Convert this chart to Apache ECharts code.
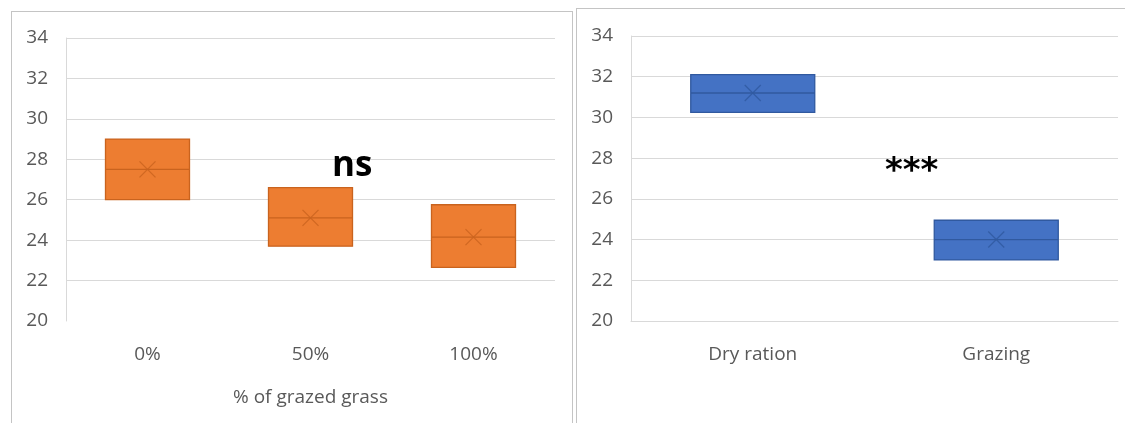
<!DOCTYPE html>
<html>
<head>
<meta charset="utf-8">
<script src="https://cdn.jsdelivr.net/npm/echarts@6/dist/echarts.min.js"></script>
<style>
  html, body { margin: 0; padding: 0; background: #fff; width: 1125px; height: 423px; overflow: hidden; }
  .panel { position: absolute; background: #fff; }
  #left { left: 11px; top: 11px; width: 560px; height: 430px; border: 1px solid #c4c4c4; border-bottom: none; }
  #right { left: 576px; top: 8px; width: 560px; height: 430px; border-left: 1px solid #c4c4c4; border-top: 1px solid #c4c4c4; }
</style>
</head>
<body>
<div id="left" class="panel"></div>
<div id="right" class="panel"></div>
<script>
// left panel: % of grazed grass
const grazedCats = ['0%', '50%', '100%'];
const grazedQ1 = [26.0, 23.7, 22.65];
const grazedMedian = [27.5, 25.1, 24.15];
const grazedQ3 = [29.0, 26.6, 25.75];
const grazedMean = [27.5, 25.1, 24.15];

// right panel: ration type
const rationCats = ['Dry ration', 'Grazing'];
const rationQ1 = [30.25, 23.0];
const rationMedian = [31.2, 24.0];
const rationQ3 = [32.1, 24.95];
const rationMean = [31.2, 24.0];

const yMin = 20, yMax = 34, yStep = 2;

const FONT = '"Open Sans", "Noto Sans", sans-serif';
const crossPath = 'path://M0,0L10,10M10,0L0,10';

function boxData(q1, med, q3) {
  // no whiskers in the source chart, so min=Q1 and max=Q3
  return q1.map((v, i) => [v, v, med[i], q3[i], q3[i]]);
}

function makeOption(cfg) {
  return {
    animation: false,
    grid: cfg.grid,
    xAxis: {
      type: 'category',
      data: cfg.cats,
      name: cfg.xName || '',
      nameLocation: 'middle',
      nameGap: 67,
      nameTextStyle: { color: '#595959', fontSize: 19, fontFamily: FONT },
      axisLine: { show: cfg.showXLine, lineStyle: { color: '#d9d9d9' } },
      axisTick: { show: false },
      axisLabel: { color: '#595959', fontSize: 19, fontFamily: FONT, margin: 24 },
      splitLine: { show: false }
    },
    yAxis: {
      type: 'value',
      min: yMin,
      max: yMax,
      interval: yStep,
      axisLine: { show: true, lineStyle: { color: '#d9d9d9' } },
      axisTick: { show: false },
      axisLabel: { color: '#595959', fontSize: 19, fontFamily: FONT, margin: 18 },
      splitLine: { show: true, showMinLine: cfg.showXLine, lineStyle: { color: '#d9d9d9', width: 1 } }
    },
    graphic: cfg.graphic,
    series: [
      {
        type: 'boxplot',
        data: boxData(cfg.q1, cfg.med, cfg.q3),
        boxWidth: [cfg.boxW, cfg.boxW],
        itemStyle: { color: cfg.fill, borderColor: cfg.edge, borderWidth: 1.3 }
      },
      {
        type: 'scatter',
        data: cfg.mean,
        symbol: crossPath,
        symbolSize: 16,
        itemStyle: { color: 'rgba(0,0,0,0)', borderColor: cfg.edge, borderWidth: 1.3 },
        z: 5
      }
    ]
  };
}

const leftChart = echarts.init(document.getElementById('left'));
leftChart.setOption(makeOption({
  grid: { left: 54, top: 26, width: 489, height: 283 },
  cats: grazedCats,
  xName: '% of grazed grass',
  showXLine: false,
  q1: grazedQ1, med: grazedMedian, q3: grazedQ3, mean: grazedMean,
  boxW: 84,
  fill: '#ED7D31',
  edge: '#C9631E',
  graphic: [{
    type: 'text', left: 320, top: 137, z: 100,
    style: { text: 'ns', fill: '#000', font: 'bold 35px "Open Sans", sans-serif' }
  }]
}));

const rightChart = echarts.init(document.getElementById('right'));
rightChart.setOption(makeOption({
  grid: { left: 54, top: 27, width: 487, height: 285 },
  cats: rationCats,
  showXLine: true,
  q1: rationQ1, med: rationMedian, q3: rationQ3, mean: rationMean,
  boxW: 124,
  fill: '#4472C4',
  edge: '#30599F',
  graphic: [{
    type: 'text', left: 308, top: 146, z: 100,
    style: { text: '***', fill: '#000', font: 'bold 34px "DejaVu Sans", sans-serif' }
  }]
}));
</script>
</body>
</html>
